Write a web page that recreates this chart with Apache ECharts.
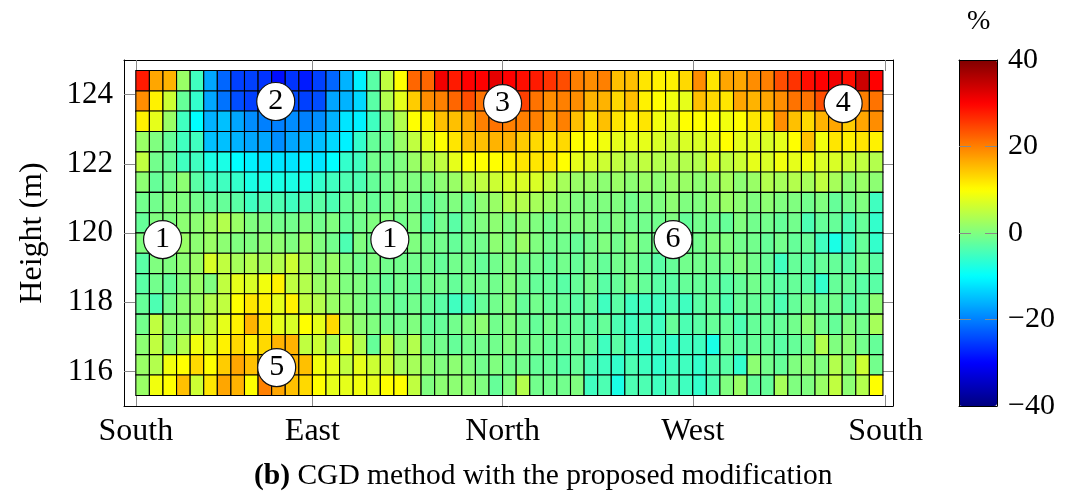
<!DOCTYPE html>
<html>
<head>
<meta charset="utf-8">
<script src="https://cdn.jsdelivr.net/npm/echarts@6/dist/echarts.min.js"></script>
<style>
  html, body { margin: 0; padding: 0; background: #fff; }
  #chart { width: 1073px; height: 494px; }
</style>
</head>
<body>
<div id="chart"></div>
<script>
// Deviation (%) per measurement cell, one array per height row (top row first),
// 55 sectors around the structure from South through East, North, West back to South.
const row124_40 = [28,17,16,2,-5,-17,-22,-25,-25,-26,-29,-26,-28,-25,-22,-16,-11,-3,5,10,22, 22,31,28,30,30,32,30,29,28,26,24,20,19,20,15,15,12,11,11,13, 19,12,17,17,19,20,24,26,29,30,31,29,34,30];
const row123_81 = [19,11,6,-2,-6,-17,-21,-24,-25,-24,-25,-24,-25,-24,-17,-16,-13,-3,4,8,14, 19,20,22,24,21,23,22,25,21,19,20,19,16,16,13,15,11,10,9,8, 15,13,12,17,16,17,19,21,21,24,22,23,20,21];
const row123_23 = [11,8,2,-5,-10,-16,-15,-17,-19,-20,-20,-19,-20,-19,-16,-12,-11,-5,0,4,10, 11,15,15,17,20,21,20,20,20,17,20,15,12,15,12,11,12,9,8,10, 10,10,9,10,12,12,19,15,13,16,17,14,17,19];
const row122_64 = [2,0,-2,-5,-5,-15,-15,-16,-17,-17,-19,-17,-16,-15,-13,-11,-6,-2,-1,2,5, 8,10,12,15,15,16,16,14,13,12,13,10,10,9,8,8,8,7,6,7, 7,8,10,8,8,7,8,10,15,9,12,11,12,11];
const row122_05 = [5,-1,-2,-5,-5,-8,-8,-10,-11,-12,-12,-12,-11,-12,-10,-6,-5,-1,-1,0,2, 4,5,8,10,10,10,11,12,12,12,10,8,7,6,5,4,5,4,4,4, 4,7,5,6,8,7,9,8,9,7,7,6,5,4];
const row121_47 = [1,-2,-1,1,-3,-5,-5,-6,-8,-8,-8,-8,-8,-6,-5,-4,-4,-2,-1,0,0, 0,1,2,4,5,6,7,7,7,5,3,2,2,1,2,1,2,1,2,2, 1,2,3,1,2,4,3,4,3,5,3,1,2,1];
const row120_88 = [-1,-1,0,0,-1,-2,-2,-3,-5,-4,-4,-5,-4,-3,-4,-2,-1,-2,-1,0,-1, -2,-1,0,-1,1,2,4,4,3,2,1,0,0,0,0,-1,0,0,1,0, 0,1,2,1,0,1,0,0,-1,0,-2,-1,0,-5];
const row120_29 = [-2,0,0,1,1,2,4,2,0,0,-1,-1,0,-1,0,-2,-1,0,0,-1,0, -3,-1,-3,-1,0,1,0,1,0,-1,0,0,0,-1,0,-1,-1,-1,0,-2, -1,-1,-2,0,-1,-1,-2,-1,-4,-2,-2,-4,-2,-6];
const row119_71 = [0,0,1,2,1,2,1,0,0,1,1,0,2,0,-1,-4,0,-1,-1,-1,0, -1,-1,-2,-1,-1,1,0,2,0,-1,-1,-2,-1,0,-1,0,-1,-1,-1,-1, -1,0,0,-1,-1,-2,-1,-2,-2,-5,-8,-5,-2,-6];
const row119_12 = [-3,0,0,1,2,7,5,3,4,3,4,6,3,1,2,0,-1,0,-1,-1,-1, -1,-2,-1,-1,-2,-1,0,-1,-1,-2,-1,-2,-1,-2,-1,-1,-2,-3,-2,-1, -1,-1,-1,0,-1,-2,-5,-2,-3,-2,-2,-3,-1,-3];
const row118_53 = [-3,-1,-2,0,2,0,5,8,7,9,11,5,4,2,2,0,0,-1,-2,-1,-2, -1,-1,-2,-1,-1,-1,0,-1,-2,-2,-3,-2,-1,-3,-2,-1,-2,-3,-3,-2, -2,-2,-3,-2,-1,-2,-3,-2,-3,-6,-2,-2,-3,-3];
const row117_95 = [-2,-4,-1,1,2,4,5,10,12,11,8,11,5,4,2,1,0,-1,-1,-2,-1, -2,-3,-5,-4,-2,-1,0,-2,-1,-2,-2,-3,-2,-5,-3,-5,-5,-5,-4,-5, -3,-2,-4,-2,-2,-2,-4,-2,-1,-2,-1,-3,-2,1];
const row117_36 = [-1,5,1,1,3,5,8,11,16,12,8,7,10,8,13,3,1,0,-1,-1,0, -2,-2,-1,0,1,-1,0,-1,-2,-1,-2,-2,-3,-2,-4,-5,-4,-5,-2,-4, -3,-2,-2,-4,-2,-2,-2,-1,1,-1,-2,0,-1,3];
const row116_77 = [1,5,1,4,9,7,11,13,11,13,16,16,5,6,3,8,4,-2,5,1,4, -1,-1,-2,-1,-1,-1,0,-1,-1,-2,-2,-2,-2,-5,-3,-5,-6,-5,-6,-5, -5,-8,-2,-3,-2,-2,-3,-2,-1,4,0,1,-1,-2];
const row116_19 = [2,4,9,10,13,10,14,17,15,14,14,16,15,9,8,5,8,6,6,3,3, 1,0,1,0,-1,0,-1,-1,-2,-2,-3,-2,-4,-5,-6,-4,-5,-6,-5,-5, -6,-4,-3,-6,1,-1,-2,0,1,0,4,1,6,-1];
const row115_60 = [2,9,10,15,6,12,17,16,10,20,17,15,13,10,8,8,9,8,10,10,5, 0,1,1,1,0,-2,0,4,-1,-1,-1,0,-5,-4,-8,-4,-4,-5,-4,-5, -6,-4,0,2,-2,-2,3,0,0,2,5,1,4,10];

// Row centre heights (m), top row first
const heights = [124.4, 123.81, 123.23, 122.64, 122.05, 121.47, 120.88, 120.29,
                 119.71, 119.12, 118.53, 117.95, 117.36, 116.77, 116.19, 115.6];
const rowValues = [row124_40, row123_81, row123_23, row122_64, row122_05, row121_47,
                   row120_88, row120_29, row119_71, row119_12, row118_53, row117_95,
                   row117_36, row116_77, row116_19, row115_60];

// Direction ticks along the circumference (sector units)
const directionNames = ['South', 'East', 'North', 'West', 'South'];
const directionTicks = [0, 13, 27, 41, 55.2];
const heightTicks = [116, 118, 120, 122, 124];
const scaleTicks = [-40, -20, 0, 20, 40];

// Numbered zones marked on the map
const zoneLabels = ['1', '2', '1', '3', '6', '4', '5'];
const zoneX = [1.97, 10.3, 18.7, 27.0, 39.55, 52.07, 10.37];
const zoneY = [119.81, 123.8, 119.81, 123.74, 119.81, 123.74, 116.11];

const FONT = 'Liberation Serif';
const JET = ['#000080', '#0000ff', '#0080ff', '#00ffff', '#80ff80',
             '#ffff00', '#ff8000', '#ff0000', '#800000'];
const ROW_H = heights[0] - heights[1];

const cells = [];
rowValues.forEach((vals, r) => {
  vals.forEach((v, c) => cells.push([c + 0.5, heights[r], v]));
});
const zones = zoneLabels.map((t, i) => [zoneX[i], zoneY[i], t]);

const minus = v => String(v).replace('-', '\u2212');

const tickStyle = { show: true, inside: true, length: 11, lineStyle: { color: '#8a8a8a', width: 1 } };
const frameLine = { show: true, onZero: false, lineStyle: { color: '#000', width: 1 } };

const chart = echarts.init(document.getElementById('chart'), null, { renderer: 'canvas' });
chart.setOption({
  animation: false,
  backgroundColor: '#fff',
  title: [
    {
      text: '{b|(b)} CGD method with the proposed modification',
      left: 254, top: 461, padding: 0,
      textStyle: {
        fontFamily: FONT, fontSize: 29.5, fontWeight: 'normal', color: '#000',
        rich: { b: { fontFamily: FONT, fontSize: 29.5, fontWeight: 'bold', color: '#000' } }
      }
    },
    {
      text: '%', left: 967, top: 8, padding: 0,
      textStyle: { fontFamily: FONT, fontSize: 28, fontWeight: 'normal', color: '#000' }
    }
  ],
  grid: [
    { left: 124, top: 60, width: 769, height: 346, outerBoundsMode: 'none' },
    { left: 959, top: 60, width: 38, height: 346, outerBoundsMode: 'none' }
  ],
  xAxis: [
    {
      type: 'value', gridIndex: 0, position: 'bottom', min: -0.87, max: 55.74,
      axisLine: frameLine, splitLine: { show: false },
      axisTick: Object.assign({ customValues: directionTicks }, tickStyle),
      axisLabel: {
        customValues: directionTicks, margin: 10, color: '#000',
        fontFamily: FONT, fontSize: 32,
        formatter: v => directionNames[directionTicks.indexOf(v)] || ''
      }
    },
    {
      type: 'value', gridIndex: 0, position: 'top', min: -0.87, max: 55.74,
      axisLine: frameLine, splitLine: { show: false },
      axisTick: Object.assign({ customValues: directionTicks }, tickStyle),
      axisLabel: { show: false }
    },
    {
      type: 'value', gridIndex: 1, position: 'bottom', min: 0, max: 1, z: 10,
      axisLine: frameLine, splitLine: { show: false },
      axisTick: { show: false }, axisLabel: { show: false }
    },
    {
      type: 'value', gridIndex: 1, position: 'top', min: 0, max: 1, z: 10,
      axisLine: frameLine, splitLine: { show: false },
      axisTick: { show: false }, axisLabel: { show: false }
    }
  ],
  yAxis: [
    {
      type: 'value', gridIndex: 0, position: 'left', min: 115, max: 125,
      name: 'Height (m)', nameLocation: 'middle', nameGap: 75,
      nameTextStyle: { fontFamily: FONT, fontSize: 32, color: '#000' },
      axisLine: frameLine, splitLine: { show: false },
      axisTick: Object.assign({ customValues: heightTicks }, tickStyle),
      axisLabel: { customValues: heightTicks, margin: 11, color: '#000', fontFamily: FONT, fontSize: 31 }
    },
    {
      type: 'value', gridIndex: 0, position: 'right', min: 115, max: 125,
      axisLine: frameLine, splitLine: { show: false },
      axisTick: Object.assign({ customValues: heightTicks }, tickStyle),
      axisLabel: { show: false }
    },
    {
      type: 'value', gridIndex: 1, position: 'left', min: -40, max: 40, z: 10,
      axisLine: frameLine, splitLine: { show: false },
      axisTick: Object.assign({}, tickStyle, { customValues: [-20, 0, 20], length: 12 }),
      axisLabel: { show: false }
    },
    {
      type: 'value', gridIndex: 1, position: 'right', min: -40, max: 40, z: 10,
      axisLine: frameLine, splitLine: { show: false },
      axisTick: Object.assign({}, tickStyle, { customValues: [-20, 0, 20], length: 12 }),
      axisLabel: {
        customValues: scaleTicks, margin: 11, color: '#000',
        fontFamily: FONT, fontSize: 30, formatter: minus
      }
    }
  ],
  visualMap: {
    type: 'continuous', min: -40, max: 40, dimension: 2, seriesIndex: 0,
    inRange: { color: JET },
    calculable: false, hoverLink: false,
    orient: 'vertical', left: 959, top: 60, padding: 0,
    itemWidth: 38, itemHeight: 346, text: null
  },
  series: [
    {
      type: 'custom', xAxisIndex: 0, yAxisIndex: 0,
      data: cells,
      encode: { x: 0, y: 1 },
      renderItem: (params, api) => {
        const x = api.value(0), y = api.value(1);
        const a = api.coord([x - 0.5, y + ROW_H / 2]);
        const b = api.coord([x + 0.5, y - ROW_H / 2]);
        return {
          type: 'rect',
          shape: { x: a[0], y: a[1], width: b[0] - a[0], height: b[1] - a[1] },
          style: { fill: api.visual('color'), stroke: '#000', lineWidth: 1.1 }
        };
      }
    },
    {
      type: 'scatter', xAxisIndex: 0, yAxisIndex: 0, z: 5,
      data: zones,
      symbol: 'circle', symbolSize: 38,
      itemStyle: { color: '#fff', borderColor: '#111', borderWidth: 1.2, opacity: 1 },
      label: {
        show: true, position: 'inside', formatter: p => p.data[2],
        fontFamily: FONT, fontSize: 30, color: '#000'
      },
      emphasis: { disabled: true }
    }
  ]
});
</script>
</body>
</html>
